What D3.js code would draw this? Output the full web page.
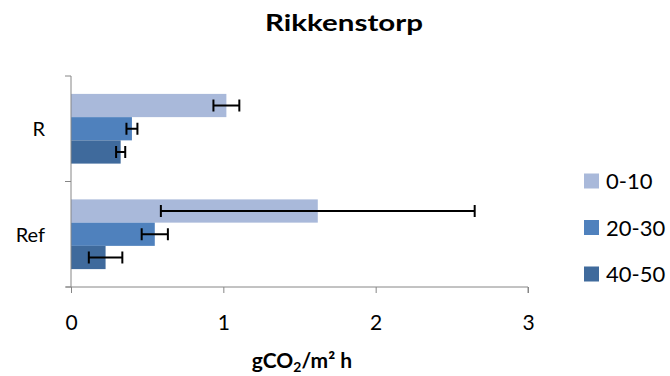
<!DOCTYPE html>
<meta charset="utf-8">
<style>
body { margin: 0; background: #fff; }
text { font-family: Lato, "Open Sans", sans-serif; fill: #000; }
.axis path, .axis line { stroke: #868686; }
</style>
<body>
<script src="https://d3js.org/d3.v7.min.js"></script>
<script>

// data
var sites = ["R", "Ref"];
var depths = ["0-10", "20-30", "40-50"];
var colors = ["#a9b9da", "#4f81bd", "#3f6a9c"];
var meanR   = [1.02, 0.40, 0.326];
var meanRef = [1.62, 0.55, 0.227];
var errR    = [0.085, 0.036, 0.03];
var errRef  = [1.03, 0.086, 0.11];
var xTicks = [0, 1, 2, 3];

var rows = [];
sites.forEach(function(s, i) {
  var m = i == 0 ? meanR : meanRef;
  var e = i == 0 ? errR : errRef;
  depths.forEach(function(d, j) {
    rows.push({site: s, depth: d, value: m[j], err: e[j]});
  });
});

var width = 670, height = 376;
var svg = d3.select("body").append("svg")
    .attr("width", width)
    .attr("height", height);

// scales
var x = d3.scaleLinear().domain([0, 3]).range([71, 528]);
var y0 = d3.scaleBand().domain(sites).range([76, 287]);
var y1 = d3.scaleBand().domain(depths)
    .range([0, y0.bandwidth()]).paddingOuter(0.77).paddingInner(0);
var color = d3.scaleOrdinal().domain(depths).range(colors);

// title
svg.append("text")
    .attr("x", 265).attr("y", 31)
    .attr("font-size", "22px")
    .attr("font-weight", "bold")
    .attr("textLength", 158)
    .attr("lengthAdjust", "spacingAndGlyphs")
    .text("Rikkenstorp");

// bars
svg.selectAll("rect.bar")
    .data(rows)
  .enter().append("rect")
    .attr("class", "bar")
    .attr("x", x(0))
    .attr("y", function(d) { return y0(d.site) + y1(d.depth); })
    .attr("width", function(d) { return x(d.value) - x(0); })
    .attr("height", y1.bandwidth())
    .attr("fill", function(d) { return color(d.depth); });

// error bars
var eb = svg.selectAll("g.err")
    .data(rows)
  .enter().append("g")
    .attr("class", "err")
    .attr("transform", function(d) {
      return "translate(0," + (y0(d.site) + y1(d.depth) + y1.bandwidth() / 2) + ")";
    });
eb.append("line")
    .attr("x1", function(d) { return x(d.value - d.err); })
    .attr("x2", function(d) { return x(d.value + d.err); })
    .attr("stroke", "#000").attr("stroke-width", 2);
eb.append("line")
    .attr("x1", function(d) { return x(d.value - d.err); })
    .attr("x2", function(d) { return x(d.value - d.err); })
    .attr("y1", -6).attr("y2", 6)
    .attr("stroke", "#000").attr("stroke-width", 2);
eb.append("line")
    .attr("x1", function(d) { return x(d.value + d.err); })
    .attr("x2", function(d) { return x(d.value + d.err); })
    .attr("y1", -6).attr("y2", 6)
    .attr("stroke", "#000").attr("stroke-width", 2);

// x axis
var xAxis = svg.append("g")
    .attr("class", "axis")
    .attr("transform", "translate(0,287)")
    .call(d3.axisBottom(x).tickValues(xTicks).tickSize(6)
      .tickFormat(d3.format("d")));
xAxis.select(".domain").attr("d", "M" + (x(0) - 5) + ",0H" + x(3) + "V6");
xAxis.selectAll(".tick text")
    .attr("y", 43).attr("dy", null)
    .attr("font-size", "21px")
    .attr("font-family", "Lato, sans-serif")
    .attr("fill", "#000");

// y axis
var yAxis = svg.append("g")
    .attr("class", "axis")
    .attr("transform", "translate(" + x(0) + ",0)");
yAxis.append("line")
    .attr("y1", 76).attr("y2", 287);
[76, 181.5, 287].forEach(function(t) {
  yAxis.append("line").attr("x1", -6).attr("x2", 0).attr("y1", t).attr("y2", t);
});
yAxis.selectAll("text.cat")
    .data(sites)
  .enter().append("text")
    .attr("class", "cat")
    .attr("x", 45 - x(0))
    .attr("y", function(d) { return y0(d) + y0.bandwidth() / 2 + 7.5; })
    .attr("text-anchor", "end")
    .attr("font-size", "20px")
    .text(function(d) { return d; });

// axis title
var t = svg.append("text")
    .attr("x", 302).attr("y", 368)
    .attr("text-anchor", "middle")
    .attr("font-size", "21px")
    .attr("font-weight", "bold");
t.append("tspan").text("gCO");
t.append("tspan").attr("font-size", "14px").attr("dy", 4).text("2");
t.append("tspan").attr("dy", -4).text("/m\u00b2 h");

// legend
var lg = svg.selectAll("g.leg")
    .data(depths)
  .enter().append("g")
    .attr("class", "leg")
    .attr("transform", function(d, i) { return "translate(584," + (173.5 + i * 46.5) + ")"; });
lg.append("rect")
    .attr("width", 15).attr("height", 15)
    .attr("fill", function(d) { return color(d); });
lg.append("text")
    .attr("x", 22).attr("y", 15.5)
    .attr("font-size", "22px")
    .text(function(d) { return d; });

</script>
